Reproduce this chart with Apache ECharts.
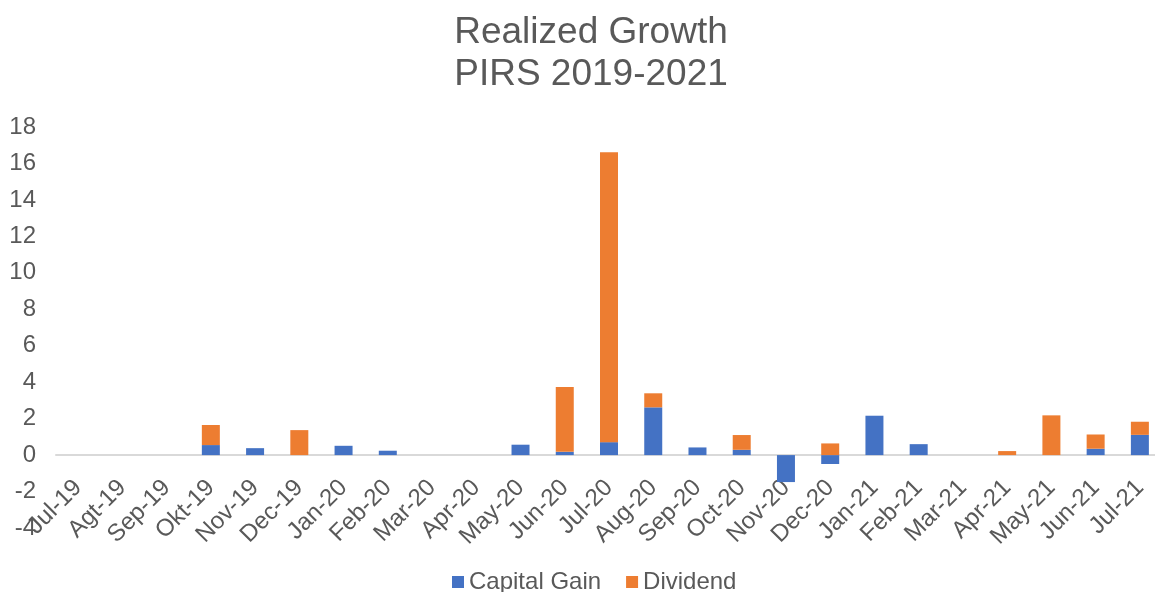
<!DOCTYPE html>
<html>
<head>
<meta charset="utf-8">
<script src="https://cdn.jsdelivr.net/npm/echarts@6/dist/echarts.min.js"></script>
<style>
  html, body { margin: 0; padding: 0; background: #fff; }
  #chart { width: 1155px; height: 592px; }
</style>
</head>
<body>
<div id="chart"></div>
<script>
const months = ['Jul-19', 'Agt-19', 'Sep-19', 'Okt-19', 'Nov-19', 'Dec-19', 'Jan-20', 'Feb-20', 'Mar-20',
  'Apr-20', 'May-20', 'Jun-20', 'Jul-20', 'Aug-20', 'Sep-20', 'Oct-20', 'Nov-20', 'Dec-20', 'Jan-21',
  'Feb-21', 'Mar-21', 'Apr-21', 'May-21', 'Jun-21', 'Jul-21']
const capitalGain = [0, 0, 0, 0.55, 0.38, 0, 0.51, 0.24, 0, 0, 0.57, 0.18, 0.71, 2.62, 0.42, 0.29, -1.48,
  -0.49, 2.16, 0.6, 0, 0, 0, 0.35, 1.11]
const dividend = [0, 0, 0, 1.1, 0, 1.37, 0, 0, 0, 0, 0, 3.55, 15.9, 0.77, 0, 0.81, 0, 0.64, 0, 0, 0, 0.22,
  2.18, 0.78, 0.72]

const textColor = '#595959'
const font = 'Liberation Sans, Arial, sans-serif'

const chart = echarts.init(document.getElementById('chart'))
chart.setOption({
  animation: false,
  textStyle: { fontFamily: font },
  title: {
    text: 'Realized Growth\nPIRS 2019-2021',
    left: 586,
    textAlign: 'center',
    top: 7,
    textStyle: { fontSize: 37, fontWeight: 'normal', color: textColor, lineHeight: 42, fontFamily: font }
  },
  legend: {
    top: 565,
    left: 447,
    itemWidth: 12,
    itemHeight: 12,
    itemGap: 25,
    icon: 'rect',
    textStyle: { fontSize: 24, color: textColor, fontFamily: font }
  },
  grid: { left: 56, top: 127, width: 1106, bottom: 64, containLabel: false, outerBoundsMode: 'none' },
  xAxis: {
    type: 'category',
    data: months,
    axisLine: { onZero: true, lineStyle: { color: '#D9D9D9', width: 2 } },
    axisTick: { show: false },
    // labels sit under the zero line, not at the bottom of the plot
    axisLabel: { interval: 0, rotate: 45, margin: -44, fontSize: 24, color: textColor, fontFamily: font }
  },
  yAxis: {
    type: 'value',
    min: -4,
    max: 18,
    interval: 2,
    splitLine: { show: false },
    axisLine: { show: false },
    axisTick: { show: false },
    axisLabel: { fontSize: 24, color: textColor, margin: 20, fontFamily: font }
  },
  series: [
    {
      name: 'Capital Gain',
      type: 'bar',
      stack: 'total',
      barWidth: 18,
      data: capitalGain,
      itemStyle: { color: '#4472C4' }
    },
    {
      name: 'Dividend',
      type: 'bar',
      stack: 'total',
      barWidth: 18,
      data: dividend,
      itemStyle: { color: '#ED7D31' }
    }
  ]
})
</script>
</body>
</html>
